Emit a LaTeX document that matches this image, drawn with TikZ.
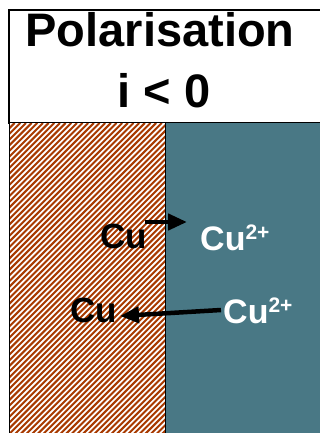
\documentclass[tikz,border=0pt]{standalone}
\usepackage{fontspec}
\setmainfont{Liberation Sans}
\usetikzlibrary{arrows.meta}
\definecolor{cubrown}{RGB}{168,58,0}
\definecolor{bathteal}{RGB}{73,120,133}
\newcommand{\cuion}{Cu\raisebox{11pt}{\fontsize{21}{22}\selectfont 2+}}

\begin{document}
\begin{tikzpicture}[
    x=1pt, y=-1pt,
    title/.style={inner sep=0pt,anchor=base,font=\fontsize{47}{52}\selectfont\bfseries},
    metal/.style={inner sep=0pt,anchor=base west,text=black,font=\fontsize{35}{40}\selectfont\bfseries},
    ion/.style={inner sep=0pt,anchor=base west,text=white,font=\fontsize{34}{40}\selectfont\bfseries},
    hatch/.style={cubrown,line width=2pt},
    arrow/.style={-{Triangle[length=19pt,width=16pt]},line width=4.5pt}
  ]
    \useasboundingbox (0,0) rectangle (320,433);
    % title box
    \draw[line width=1.2pt,fill=white] (9,10) rectangle (324,123);
    \node[title] (pol) at (160,47) {Polarisation};
    \node[title] (cond) at (164,107) {i < 0};
    % electrode and solution
    \fill[bathteal] (165.5,123) rectangle (324,436);
    \fill[white] (9.5,123) rectangle (165.5,436);
    \begin{scope}
      \clip (9.5,123) rectangle (165.5,436);
      \foreach \k in {0,...,85}
        \draw[hatch] (-304+\k*5.66,436) -- ++(313,-313);
    \end{scope}
    \draw[line width=1.2pt] (9.5,123) -- (9.5,436);
    \draw[line width=1.2pt] (165.5,123) -- (165.5,436);
    % species
    \node[metal] (cuA) at (100,248) {Cu};
    \node[ion] (ionA) at (200,250) {\cuion};
    \node[metal] (cuB) at (70,322) {Cu};
    \node[ion] (ionB) at (223,323) {\cuion};
    \coordinate (oxA) at (145,222);
    \coordinate (oxB) at (187,222);
    \coordinate (redA) at (221,310);
    \coordinate (redB) at (120,316);
    \draw[arrow] (oxA) -- (oxB);
    \draw[arrow] (redA) -- (redB);
  \end{tikzpicture}
\end{document}
